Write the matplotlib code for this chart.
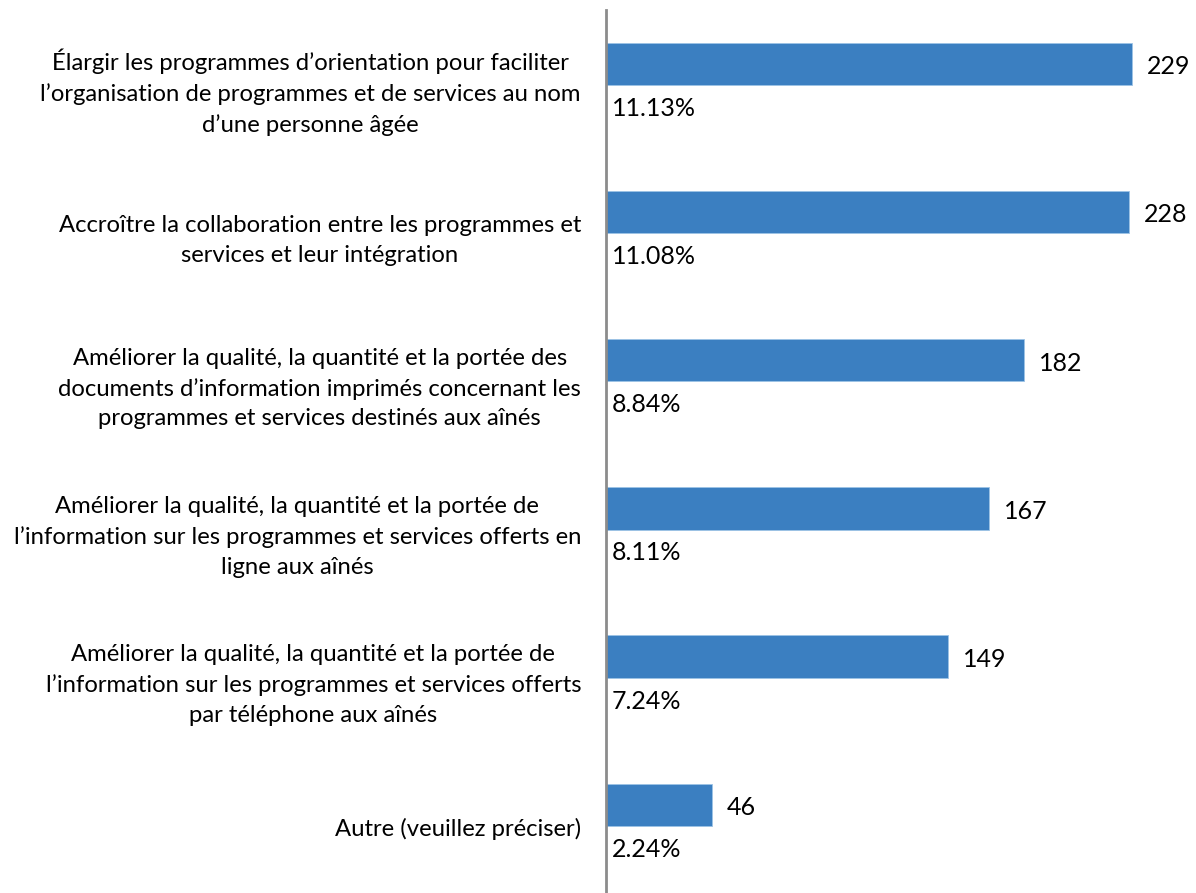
import matplotlib
matplotlib.use("Agg")
import matplotlib.pyplot as plt

plt.rcParams["font.family"] = ["Lato", "DejaVu Sans"]

# data
categories = [
    "Élargir les programmes d’orientation pour faciliter\nl’organisation de programmes et de services au nom\nd’une personne âgée",
    "Accroître la collaboration entre les programmes et\nservices et leur intégration",
    "Améliorer la qualité, la quantité et la portée des\ndocuments d’information imprimés concernant les\nprogrammes et services destinés aux aînés",
    "Améliorer la qualité, la quantité et la portée de\nl’information sur les programmes et services offerts en\nligne aux aînés",
    "Améliorer la qualité, la quantité et la portée de\nl’information sur les programmes et services offerts\npar téléphone aux aînés",
    "Autre (veuillez préciser)",
]
counts = [229, 228, 182, 167, 149, 46]
percents = [11.13, 11.08, 8.84, 8.11, 7.24, 2.24]

bar_color = "#3B7FC1"
fs = 18
label_fs = 17.2

fig = plt.figure(figsize=(11.96, 8.93), dpi=100)
ax = fig.add_axes([606 / 1196, 0, 590 / 1196, 883 / 893])

ypos = list(range(len(categories)))
bar_y = [y - 0.15 for y in ypos]
ax.barh(bar_y, counts, height=0.285, color=bar_color, edgecolor="#9DC3E6", linewidth=0.6)

for y, c, p in zip(ypos, counts, percents):
    ax.text(c + 6.5, y - 0.13, str(c), va="center", ha="left", fontsize=fs)
    ax.text(2.5, y + 0.15, f"{p:.2f}%", va="center", ha="left", fontsize=fs)

ax.set_ylim(5.445, -0.513)
ax.set_xlim(0, 257)
ax.set_yticks(ypos)
ax.set_yticklabels(categories, fontsize=label_fs, ha="right", multialignment="center", linespacing=1.5)
ax.tick_params(axis="y", length=0, pad=18)
ax.set_xticks([])

for s in ["top", "right", "bottom"]:
    ax.spines[s].set_visible(False)
ax.spines["left"].set_color("#8C8C8C")
ax.spines["left"].set_linewidth(2)

fig.savefig("out.png", dpi=100)
